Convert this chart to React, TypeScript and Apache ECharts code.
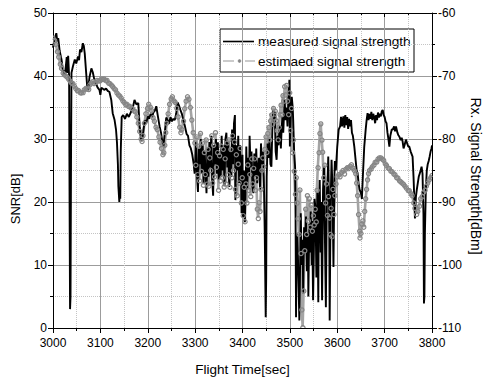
import React, { useEffect, useRef } from "react";
import * as echarts from "echarts";

const FONT = "'Liberation Sans', Arial, Helvetica, sans-serif";

const xTicks = { min: 3000, max: 3800, interval: 100 };
const snrTicks = { min: 0, max: 50, interval: 10 };
const dbmTicks = { min: -110, max: -60, interval: 10 };

const seriesNames = ["measured signal strength", "estimaed signal strength"];

// [flight time (s), SNR (dB)]
const measured: [number, number][] = [
  [3000, 44.5], [3003, 45.8], [3007, 46.8], [3009, 45.5], [3011, 46.0], [3014, 44.0], [3018, 42.6],
  [3021, 41.0], [3025, 40.2], [3027, 41.5], [3029, 43.0], [3030, 40.5], [3032, 43.2], [3034, 40.0],
  [3035, 20.0], [3036, 3.0], [3037, 5.0], [3038, 26.0], [3039, 40.5], [3042, 41.5], [3046, 42.6],
  [3049, 42.0], [3053, 43.1], [3055, 42.5], [3057, 44.2], [3060, 43.8], [3063, 45.2], [3065, 44.8],
  [3067, 43.6], [3070, 40.5], [3072, 38.5], [3074, 37.8], [3077, 39.8], [3079, 40.5], [3081, 41.2],
  [3084, 40.6], [3087, 39.5], [3091, 38.8], [3094, 38.2], [3098, 37.8], [3100, 37.0], [3102, 38.1],
  [3105, 38.0], [3108, 37.8], [3112, 38.0], [3116, 37.6], [3119, 37.5], [3123, 36.2], [3126, 34.1],
  [3130, 33.0], [3133, 31.5], [3135, 29.5], [3137, 26.0], [3138, 22.5], [3140, 20.0], [3141, 21.5],
  [3142, 20.5], [3143, 28.0], [3145, 33.5], [3148, 33.8], [3152, 33.2], [3156, 34.0], [3160, 33.5],
  [3164, 34.2], [3168, 34.8], [3172, 36.2], [3176, 35.5], [3180, 35.7], [3183, 32.0], [3186, 30.0],
  [3188, 29.8], [3191, 31.5], [3194, 33.0], [3197, 32.5], [3200, 33.6], [3203, 33.2], [3206, 34.0],
  [3209, 33.5], [3212, 34.2], [3215, 34.5], [3218, 35.2], [3221, 33.8], [3225, 32.0], [3228, 31.0],
  [3231, 29.5], [3233, 28.8], [3236, 31.0], [3239, 33.4], [3242, 33.0], [3245, 32.4], [3248, 33.5],
  [3251, 32.8], [3254, 33.2], [3257, 33.0], [3260, 34.0], [3263, 35.8], [3266, 35.3], [3269, 34.6],
  [3272, 34.0], [3275, 33.0], [3278, 32.2], [3282, 30.8], [3285, 30.5], [3288, 29.0], [3291, 28.5],
  [3294, 27.5], [3297, 26.0], [3299, 24.5], [3300, 25.5],
  [3302, 29.5], [3304, 24.0], [3306, 21.6], [3308, 28.5], [3310, 26.0], [3312, 30.0], [3314, 24.5],
  [3316, 29.0], [3318, 23.0], [3320, 28.0], [3322, 25.0], [3324, 21.4], [3326, 28.5], [3328, 24.0],
  [3330, 29.5], [3332, 25.5], [3334, 30.5], [3336, 23.5], [3338, 21.0], [3340, 29.0], [3342, 26.0],
  [3344, 30.0], [3346, 24.5], [3348, 29.5], [3350, 23.5], [3352, 27.5], [3354, 24.0], [3356, 30.5],
  [3358, 25.0], [3360, 29.0], [3362, 22.5], [3364, 30.0], [3366, 31.0], [3368, 25.5], [3370, 29.5],
  [3372, 22.4], [3374, 28.0], [3376, 24.0], [3378, 31.5], [3380, 26.0], [3382, 32.5], [3384, 33.8],
  [3385, 20.3], [3387, 29.0], [3389, 25.0], [3391, 30.5], [3393, 23.0], [3395, 29.0], [3397, 24.5],
  [3398, 18.2], [3400, 27.5], [3401, 17.5], [3403, 25.0], [3405, 16.8], [3407, 24.0], [3408, 28.8],
  [3410, 22.0], [3412, 27.0], [3414, 24.0], [3415, 30.5], [3417, 25.5], [3419, 28.0], [3421, 22.5],
  [3423, 21.4], [3425, 27.7], [3427, 24.0], [3429, 28.5], [3431, 23.0], [3433, 25.5], [3435, 27.0],
  [3437, 22.0], [3439, 29.3], [3441, 26.0], [3443, 28.0], [3445, 24.0], [3447, 15.0], [3449, 1.7],
  [3450, 8.0], [3451, 24.0], [3453, 29.3], [3455, 27.0], [3457, 30.0], [3459, 26.0], [3461, 25.6],
  [3463, 31.5], [3465, 34.6], [3466, 33.0], [3468, 34.3], [3470, 28.0], [3472, 26.7], [3474, 30.5],
  [3476, 29.0], [3478, 31.5], [3479, 32.0], [3481, 28.5], [3482, 30.5], [3484, 33.5], [3486, 31.0],
  [3488, 34.5], [3489, 36.2], [3491, 33.0], [3493, 35.0], [3495, 32.0], [3497, 36.5], [3499, 39.4],
  [3500, 28.8], [3502, 34.0], [3504, 36.7], [3506, 35.0], [3507, 33.0], [3509, 28.0], [3511, 25.6],
  [3512, 18.0], [3513, 1.7], [3514, 10.0], [3516, 15.0], [3518, 8.0], [3520, 1.2], [3522, 12.0],
  [3523, 18.2], [3525, 10.0], [3527, 14.0], [3528, 5.5], [3530, 16.0], [3532, 12.0], [3534, 17.7],
  [3536, 9.0], [3538, 15.0], [3539, 5.0], [3541, 16.5], [3542, 12.0], [3544, 18.5], [3546, 10.0],
  [3547, 17.0], [3549, 4.4], [3551, 14.0], [3552, 20.5], [3554, 19.2], [3556, 8.0], [3558, 21.5],
  [3560, 4.1], [3561, 18.0], [3563, 23.5], [3565, 12.0], [3566, 20.0], [3568, 4.4], [3570, 22.0],
  [3572, 25.6], [3574, 14.0], [3576, 3.3], [3578, 21.0], [3580, 24.5], [3581, 27.2], [3583, 18.0],
  [3584, 1.2], [3586, 20.0], [3588, 26.7], [3590, 22.0], [3592, 9.7], [3594, 24.0], [3595, 26.5],
  [3597, 25.0], [3600, 28.8], [3603, 31.5], [3606, 32.0], [3608, 33.5], [3610, 32.0], [3613, 33.6],
  [3615, 31.8], [3617, 33.8], [3619, 32.2], [3621, 33.5], [3623, 31.6], [3625, 33.2], [3627, 32.0],
  [3629, 33.0], [3631, 31.0], [3633, 30.5], [3636, 28.8], [3639, 26.5], [3641, 25.0], [3643, 24.6],
  [3645, 23.0], [3647, 22.0], [3650, 21.4], [3652, 20.5], [3654, 24.0], [3657, 28.8], [3660, 31.5],
  [3662, 33.0], [3664, 34.1], [3666, 33.0], [3668, 34.0], [3670, 33.2], [3672, 34.3], [3674, 33.0],
  [3676, 34.0], [3678, 33.5], [3680, 32.5], [3682, 33.8], [3684, 33.0], [3686, 34.2], [3688, 33.4],
  [3690, 34.0], [3692, 33.6], [3694, 34.4], [3696, 34.6], [3698, 33.8], [3700, 33.5], [3702, 32.8],
  [3704, 32.5], [3706, 31.0], [3708, 30.0], [3710, 28.8], [3712, 30.5], [3715, 31.5], [3717, 31.5],
  [3720, 32.0], [3722, 31.2], [3724, 32.0], [3727, 31.0], [3729, 30.6], [3731, 30.4], [3734, 29.8],
  [3736, 30.2], [3738, 29.6], [3740, 28.5], [3742, 29.0], [3745, 29.9], [3748, 29.2], [3750, 28.8],
  [3752, 28.8], [3755, 28.0], [3757, 27.6], [3759, 27.2], [3761, 24.0], [3762, 21.9], [3764, 17.4],
  [3765, 19.0], [3766, 20.8], [3768, 22.0], [3770, 23.0], [3772, 24.0], [3774, 24.5], [3776, 25.0],
  [3778, 25.6], [3780, 24.5], [3782, 18.0], [3783, 3.9], [3784, 5.0], [3785, 15.0], [3787, 22.0],
  [3789, 25.0], [3791, 26.0], [3793, 26.5], [3795, 27.2], [3797, 28.0], [3799, 28.5], [3800, 29.0],
];

// [flight time (s), SNR (dB)]
const estimated: [number, number][] = [
  [3000, 46.0], [3003, 45.8], [3006, 45.0], [3009, 44.0], [3012, 43.0], [3015, 42.0], [3018, 41.2],
  [3021, 40.6], [3024, 40.2], [3027, 40.0], [3030, 39.8], [3033, 39.5], [3036, 39.2], [3039, 38.9],
  [3042, 38.8], [3045, 38.4], [3048, 38.0], [3051, 37.8], [3054, 37.7], [3057, 37.5], [3060, 37.3],
  [3063, 37.5], [3066, 37.8], [3069, 38.2], [3072, 37.9], [3075, 38.0], [3078, 38.6], [3081, 38.9],
  [3084, 39.1], [3087, 38.8], [3090, 39.0], [3093, 39.3], [3096, 39.2], [3099, 39.4], [3102, 39.5],
  [3105, 39.6], [3108, 39.5], [3111, 39.4], [3114, 39.3], [3117, 39.0], [3120, 38.8], [3123, 38.7],
  [3126, 38.3], [3129, 38.0], [3132, 37.8], [3135, 37.3], [3138, 37.0], [3141, 36.8], [3144, 36.5],
  [3147, 36.2], [3150, 35.8], [3153, 35.6], [3156, 35.5], [3159, 35.3], [3162, 35.2], [3165, 35.0],
  [3168, 34.8], [3171, 34.6], [3174, 34.3], [3177, 33.5], [3180, 32.5], [3183, 31.2], [3186, 30.0],
  [3188, 29.6], [3190, 30.5], [3193, 32.5], [3196, 34.0], [3199, 35.0], [3202, 35.5], [3205, 35.2],
  [3208, 34.5], [3211, 33.5], [3214, 32.8], [3217, 32.0], [3220, 31.5], [3223, 30.5], [3226, 29.5],
  [3229, 28.5], [3232, 27.5], [3234, 27.8], [3236, 29.0], [3238, 31.0], [3240, 32.5], [3243, 34.0],
  [3246, 35.5], [3249, 36.5], [3252, 36.7], [3255, 36.2], [3258, 35.8], [3261, 35.0], [3264, 33.5],
  [3267, 32.0], [3270, 31.0], [3272, 31.5], [3275, 33.0], [3278, 34.8], [3281, 36.0], [3284, 36.7],
  [3287, 36.3], [3290, 35.0], [3293, 33.0], [3296, 31.0], [3299, 29.5],
  [3301, 26.0], [3303, 30.5], [3305, 24.5], [3307, 29.0], [3309, 23.5], [3311, 31.0], [3313, 25.0],
  [3315, 29.5], [3317, 22.8], [3319, 28.0], [3321, 24.5], [3323, 30.0], [3325, 23.0], [3327, 28.5],
  [3329, 22.5], [3331, 27.0], [3333, 25.0], [3335, 30.5], [3337, 23.0], [3339, 29.0], [3341, 24.0],
  [3343, 31.0], [3345, 25.5], [3347, 28.0], [3349, 22.0], [3351, 27.5], [3353, 23.5], [3355, 29.0],
  [3357, 24.0], [3359, 28.5], [3361, 22.5], [3363, 27.0], [3365, 23.0], [3367, 29.5], [3369, 24.5],
  [3371, 30.0], [3373, 22.5], [3375, 28.5], [3377, 24.0], [3379, 30.5], [3381, 25.0], [3383, 29.5],
  [3385, 22.0], [3387, 27.5], [3389, 21.0], [3391, 26.0], [3393, 23.0], [3395, 28.5], [3397, 20.0],
  [3399, 24.0], [3401, 18.0], [3403, 22.5], [3405, 17.0], [3407, 23.0], [3409, 20.0], [3411, 26.0],
  [3413, 22.0], [3415, 24.5], [3417, 21.0], [3419, 27.0], [3421, 23.0], [3423, 25.5], [3425, 27.0],
  [3427, 22.0], [3429, 24.0], [3431, 19.0], [3433, 17.5], [3435, 20.0], [3437, 18.5], [3439, 22.0],
  [3441, 25.0], [3443, 27.0], [3445, 25.6], [3447, 28.5], [3449, 30.5], [3451, 28.0], [3453, 31.0],
  [3455, 32.0], [3457, 30.0], [3459, 33.0], [3461, 34.0], [3463, 32.5], [3465, 35.0], [3467, 33.5],
  [3469, 34.5], [3471, 33.0], [3473, 31.5], [3475, 30.0], [3477, 32.0], [3479, 34.0], [3481, 35.5],
  [3483, 34.0], [3485, 37.0], [3487, 36.0], [3489, 38.3], [3491, 37.0], [3493, 38.5], [3495, 36.0],
  [3497, 34.0], [3499, 37.5], [3501, 31.5], [3503, 35.0], [3505, 28.0], [3507, 30.0], [3509, 25.0],
  [3511, 21.4], [3513, 24.0], [3515, 20.0], [3517, 17.5], [3519, 15.0], [3521, 22.0], [3523, 12.0],
  [3525, 3.0], [3527, 0.2], [3529, 6.0], [3531, 12.4], [3533, 19.0], [3535, 15.0], [3537, 21.0],
  [3539, 17.0], [3541, 20.5], [3543, 16.0], [3545, 19.5], [3547, 15.5], [3549, 18.0], [3551, 16.5],
  [3553, 19.0], [3555, 17.0], [3557, 22.0], [3559, 25.6], [3561, 28.0], [3563, 31.0], [3565, 32.5],
  [3567, 30.0], [3569, 28.0], [3571, 24.0], [3573, 26.0], [3575, 20.0], [3577, 23.0], [3579, 18.0],
  [3581, 21.0], [3583, 17.6], [3585, 15.0], [3587, 19.0], [3589, 14.5], [3591, 22.0], [3593, 18.0],
  [3595, 21.0], [3597, 23.0], [3600, 24.0], [3603, 24.5], [3606, 24.0], [3609, 24.8], [3612, 25.0],
  [3615, 24.6], [3618, 25.2], [3621, 25.6], [3624, 25.3], [3627, 25.8], [3630, 25.9], [3633, 25.5],
  [3636, 25.0], [3639, 24.5], [3641, 23.0], [3643, 21.0], [3645, 18.0], [3647, 15.5], [3648, 14.3],
  [3650, 15.0], [3652, 16.5], [3654, 17.0], [3656, 16.0], [3658, 18.5], [3660, 20.5], [3662, 22.0],
  [3664, 23.5], [3666, 24.5], [3668, 25.0], [3671, 25.4], [3674, 25.6], [3677, 26.0], [3680, 26.3],
  [3683, 26.5], [3686, 26.8], [3689, 27.0], [3692, 27.0], [3695, 26.8], [3698, 26.6], [3701, 26.2],
  [3704, 25.8], [3707, 25.5], [3710, 25.3], [3713, 25.0], [3716, 24.8], [3719, 24.6], [3722, 24.3],
  [3725, 24.0], [3728, 23.8], [3731, 23.5], [3734, 23.2], [3737, 23.0], [3740, 22.8], [3743, 22.5],
  [3746, 22.2], [3749, 22.0], [3752, 21.8], [3755, 21.5], [3758, 21.0], [3761, 20.0], [3764, 19.0],
  [3767, 18.2], [3770, 18.5], [3773, 19.5], [3776, 20.5], [3779, 21.0], [3782, 21.5], [3785, 22.0],
  [3788, 22.5], [3791, 23.0], [3794, 23.5], [3797, 24.0], [3800, 24.2],
];

const BLACK = "#000";
const GRAY = "#868686";
const GRAY_LINE = "#a8a8a8";

export default function App() {
  const ref = useRef<HTMLDivElement>(null);

  useEffect(() => {
    document.body.style.margin = "0";
    if (!ref.current) return;
    const chart = echarts.init(ref.current, null, { renderer: "svg" });

    const tickLabel = {
      fontFamily: FONT,
      fontSize: 12,
      color: BLACK,
      formatter: (v: number) => String(v),
    };
    const majorSplit = { show: true, lineStyle: { color: "#9c9c9c", width: 1 } };
    const minorSplit = { show: true, lineStyle: { color: "#c4c4c4", width: 1, type: "dotted" } };
    const axisLine = { show: true, onZero: false, lineStyle: { color: BLACK, width: 1 } };

    const lgX = 220, lgY = 29, lgW = 194, lgH = 43;
    const row1 = 41.5, row2 = 61;

    chart.setOption({
      animation: false,
      backgroundColor: "#fff",
      grid: { left: 53, right: 53, top: 13, bottom: 53, containLabel: false },
      xAxis: [
        {
          type: "value",
          position: "bottom",
          ...xTicks,
          axisLine,
          axisTick: { show: true, inside: false, length: 5, lineStyle: { color: BLACK } },
          minorTick: { show: true, splitNumber: 2, length: 3, lineStyle: { color: BLACK } },
          splitLine: majorSplit,
          minorSplitLine: minorSplit,
          axisLabel: { ...tickLabel, margin: 9 },
        },
        {
          type: "value",
          position: "top",
          ...xTicks,
          axisLine,
          axisTick: { show: true, inside: true, length: 4, lineStyle: { color: BLACK } },
          minorTick: { show: true, splitNumber: 2, length: 2, lineStyle: { color: BLACK } },
          splitLine: { show: false },
          axisLabel: { show: false },
        },
      ],
      yAxis: [
        {
          type: "value",
          position: "left",
          ...snrTicks,
          axisLine,
          axisTick: { show: true, inside: false, length: 5, lineStyle: { color: BLACK } },
          minorTick: { show: true, splitNumber: 2, length: 3, lineStyle: { color: BLACK } },
          splitLine: majorSplit,
          minorSplitLine: minorSplit,
          axisLabel: { ...tickLabel, margin: 6 },
        },
        {
          type: "value",
          position: "right",
          ...dbmTicks,
          axisLine,
          axisTick: { show: true, inside: false, length: 5, lineStyle: { color: BLACK } },
          minorTick: { show: true, splitNumber: 2, length: 3, lineStyle: { color: BLACK } },
          splitLine: { show: false },
          axisLabel: { ...tickLabel, margin: 6 },
        },
      ],
      legend: { show: false },
      graphic: [
        {
          type: "text",
          x: 242.5,
          y: 369,
          style: {
            text: "Flight Time[sec]",
            font: `13.5px ${FONT}`,
            fill: BLACK,
            textAlign: "center",
            textVerticalAlign: "middle",
          },
        },
        {
          type: "text",
          x: 15,
          y: 199,
          rotation: Math.PI / 2,
          style: {
            text: "SNR[dB]",
            font: `13px ${FONT}`,
            fill: BLACK,
            textAlign: "center",
            textVerticalAlign: "middle",
          },
        },
        {
          type: "text",
          x: 476,
          y: 176,
          rotation: -Math.PI / 2,
          style: {
            text: "Rx. Signal Strength[dBm]",
            font: `14px ${FONT}`,
            fill: BLACK,
            textAlign: "center",
            textVerticalAlign: "middle",
          },
        },
        {
          type: "group",
          z: 100,
          children: [
            {
              type: "rect",
              shape: { x: lgX, y: lgY, width: lgW, height: lgH },
              style: { fill: "#fff", stroke: BLACK, lineWidth: 1 },
            },
            {
              type: "line",
              shape: { x1: 223, y1: row1, x2: 254, y2: row1 },
              style: { stroke: BLACK, lineWidth: 1.6 },
            },
            {
              type: "text",
              x: 258,
              y: row1,
              style: {
                text: seriesNames[0],
                font: `13.6px ${FONT}`,
                fill: BLACK,
                textAlign: "left",
                textVerticalAlign: "middle",
              },
            },
            {
              type: "line",
              shape: { x1: 223, y1: row2, x2: 234, y2: row2 },
              style: { stroke: GRAY_LINE, lineWidth: 1.2 },
            },
            {
              type: "circle",
              shape: { cx: 239.5, cy: row2, r: 1.4 },
              style: { fill: GRAY, stroke: GRAY, lineWidth: 0.8 },
            },
            {
              type: "line",
              shape: { x1: 245, y1: row2, x2: 255, y2: row2 },
              style: { stroke: GRAY_LINE, lineWidth: 1.2 },
            },
            {
              type: "text",
              x: 258,
              y: row2,
              style: {
                text: seriesNames[1],
                font: `13.6px ${FONT}`,
                fill: BLACK,
                textAlign: "left",
                textVerticalAlign: "middle",
              },
            },
          ],
        },
      ],
      series: [
        {
          name: seriesNames[1],
          type: "line",
          xAxisIndex: 0,
          yAxisIndex: 0,
          data: estimated,
          showSymbol: false,
          symbol: "none",
          lineStyle: { color: "#a4a4a4", width: 2.6 },
          itemStyle: { color: GRAY },
          z: 2,
        },
        {
          name: seriesNames[0],
          type: "line",
          xAxisIndex: 0,
          yAxisIndex: 0,
          data: measured,
          showSymbol: false,
          symbol: "none",
          lineStyle: { color: BLACK, width: 1.9 },
          itemStyle: { color: BLACK },
          z: 3,
        },
        {
          name: seriesNames[1] + " markers",
          type: "custom",
          xAxisIndex: 0,
          yAxisIndex: 0,
          data: estimated,
          clip: true,
          encode: { x: 0, y: 1 },
          renderItem: (params: any, api: any) => {
            const p = api.coord([api.value(0), api.value(1)]);
            return {
              type: "circle",
              shape: { cx: p[0], cy: p[1], r: 2.1 },
              style: { fill: "none", stroke: GRAY, lineWidth: 1.2 },
            };
          },
          z: 4,
        },
      ],
    });

    return () => chart.dispose();
  }, []);

  return <div ref={ref} style={{ width: 485, height: 381 }} />;
}
